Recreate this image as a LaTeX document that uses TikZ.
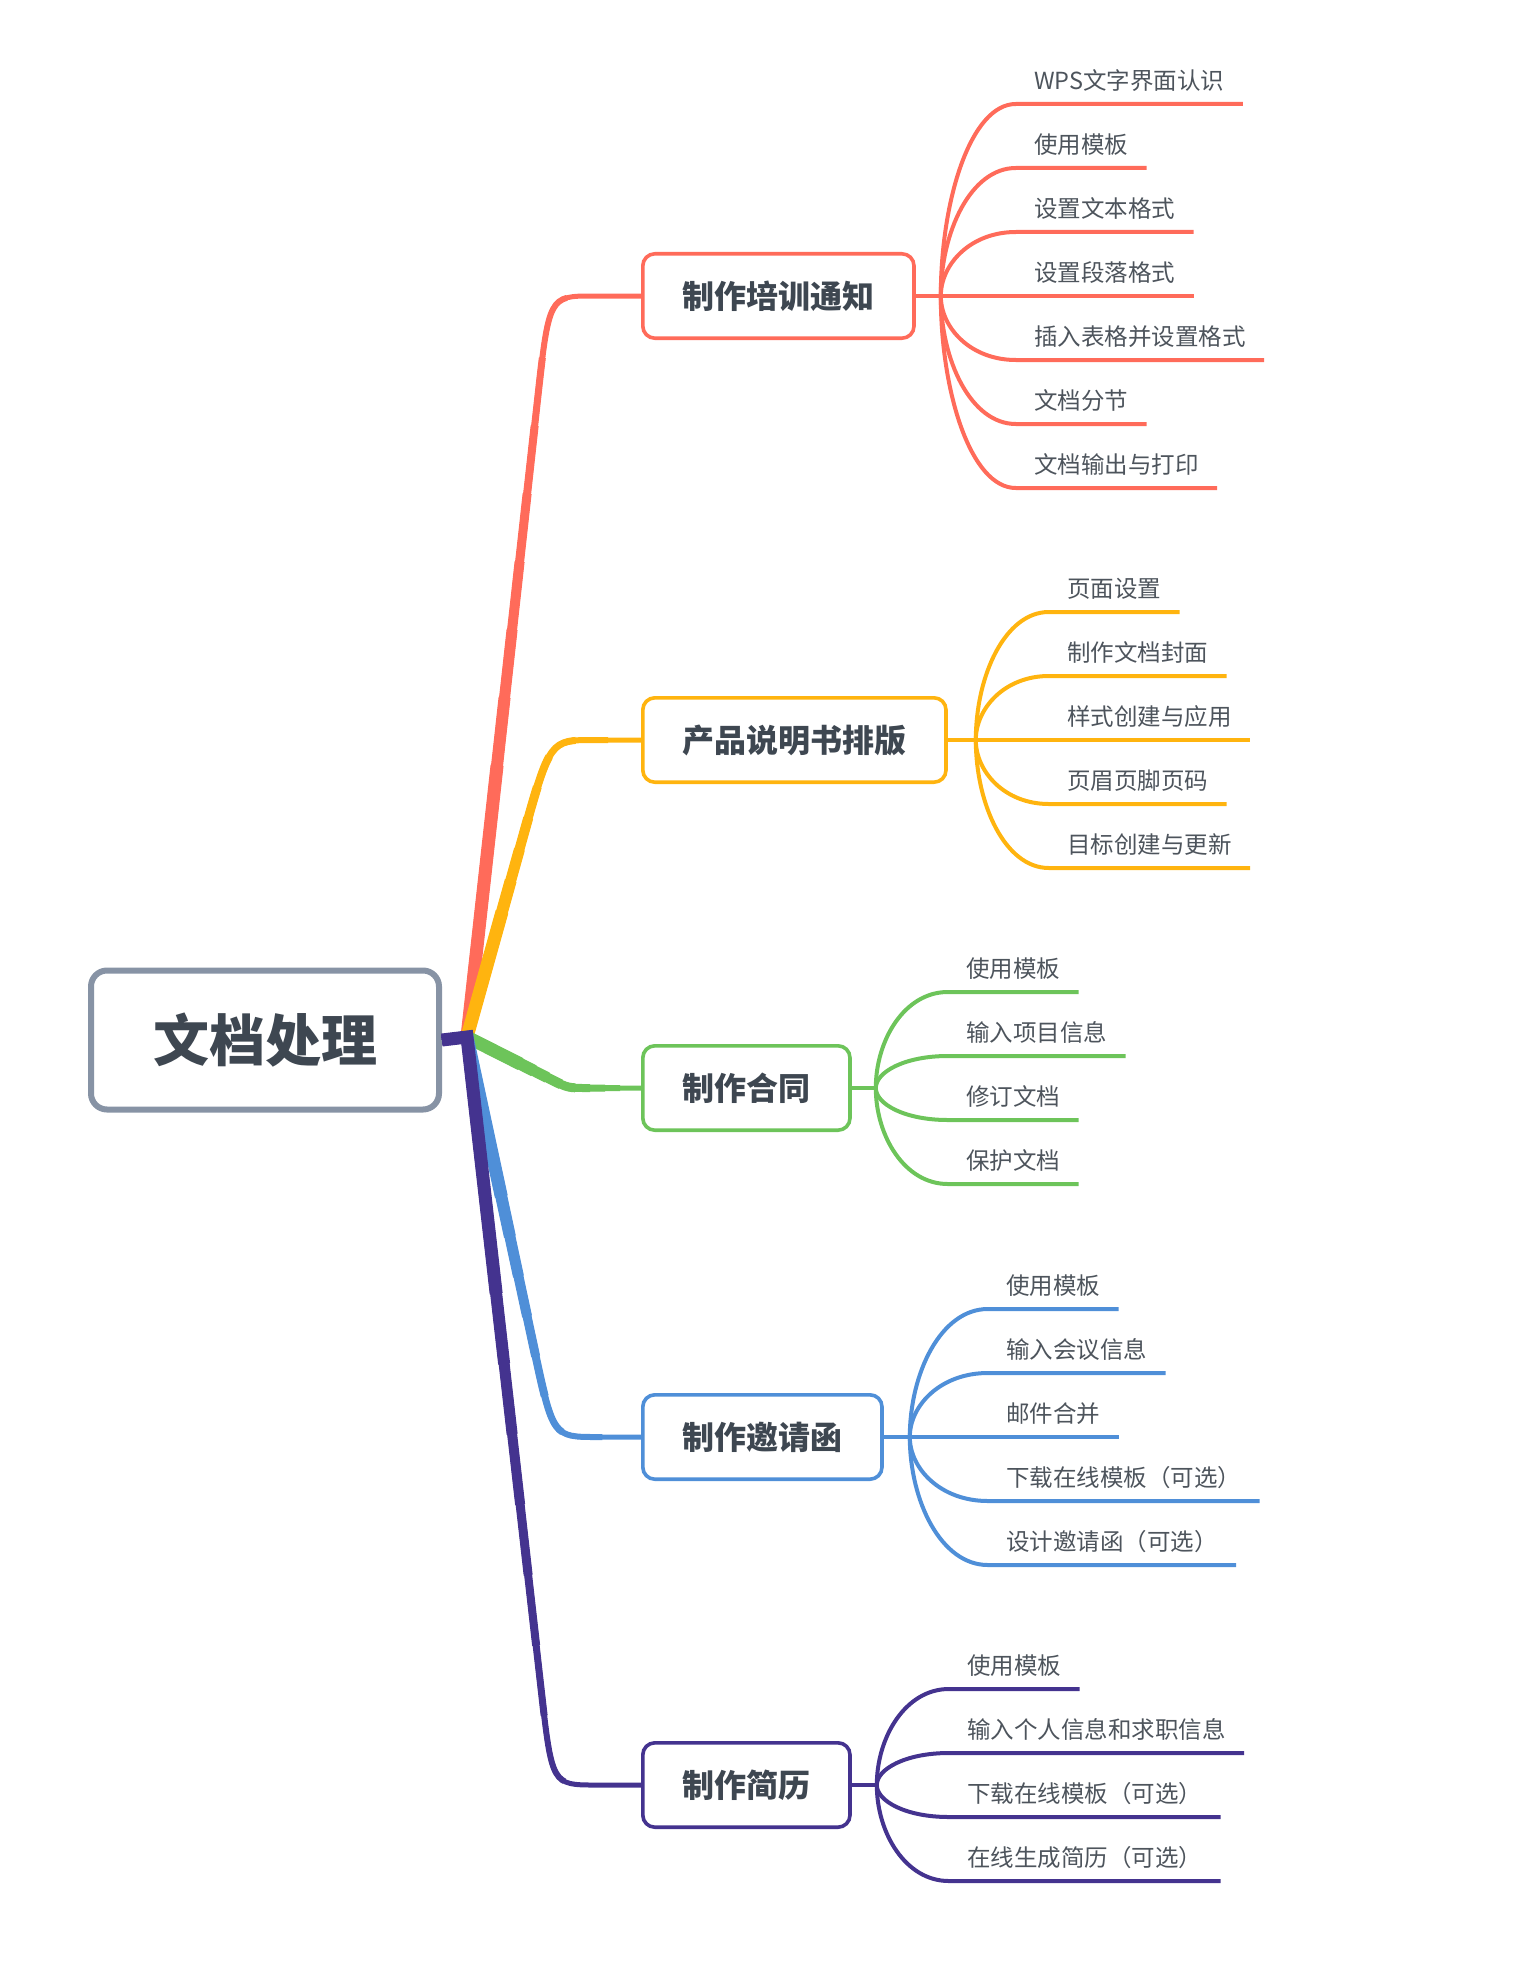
\documentclass[tikz,border=0pt]{standalone}
\usepackage{fontspec}
\setmainfont{Noto Sans CJK SC}
\usetikzlibrary{positioning, calc}

\definecolor{rootgray}{HTML}{8793A5}
\definecolor{textdark}{HTML}{3E4751}
\definecolor{textgray}{HTML}{4D545C}
\definecolor{cred}{HTML}{FF6B5A}
\definecolor{corange}{HTML}{FFB40F}
\definecolor{cgreen}{HTML}{6DC45A}
\definecolor{cblue}{HTML}{4F8FD8}
\definecolor{cpurple}{HTML}{44338F}

% tapered main branch: colour, length (pt), path
\newcommand{\trunk}[3]{%
  \foreach \k in {0,...,8}{%
    \pgfmathsetmacro{\dashlen}{\k==0 ? 5000 : #2*(1-\k/12)}%
    \pgfmathsetmacro{\wid}{2.5+0.5*\k}%
    \draw[#1, line width=\wid pt, dash pattern=on \dashlen pt off 5000pt] #3;
  }}

\begin{document}
\begin{tikzpicture}[x=0.5pt, y=-0.5pt,
    root/.style={draw=rootgray, line width=3pt, rounded corners=8pt, fill=white, text=textdark,
        font=\bfseries\fontsize{28}{34}\selectfont, minimum width=174pt, minimum height=69.5pt},
    topic/.style={draw=#1, line width=1.8pt, rounded corners=6pt, fill=white, text=textdark,
        font=\bfseries\fontsize{16}{20}\selectfont, minimum height=42.2pt, inner xsep=19.8pt, anchor=west},
    leaf/.style={font=\fontsize{11.75}{14}\selectfont, text=textgray, inner xsep=9pt, inner ysep=7pt,
        text depth=0pt, anchor=south west},
    sub/.style={draw=#1, line width=2pt}
]
\useasboundingbox (0,0) rectangle (1515,1969);

% Root and topics
\node[root] (root) at (265,1040) {文档处理};
\node[topic=cred] (train) at (641,296) {制作培训通知};
\node[topic=corange] (manual) at (641,740) {产品说明书排版};
\node[topic=cgreen] (contract) at (641,1088) {制作合同};
\node[topic=cblue] (invite) at (641,1437) {制作邀请函};
\node[topic=cpurple] (resume) at (641,1785) {制作简历};

\coordinate (hub) at (467,1037);

% Corners of the main branches
\coordinate (train-c) at ($(train.west)+(-92,0)$);
\coordinate (manual-c) at ($(manual.west)+(-91,0)$);
\coordinate (contract-c) at ($(contract.west)+(-73,0)$);
\coordinate (invite-c) at ($(invite.west)+(-88,0)$);
\coordinate (resume-c) at ($(resume.west)+(-89,0)$);

% Main branches
\trunk{cred}{410}{(hub) -- ($(train-c)!53pt!(hub)$) .. controls (train-c) .. ($(train-c)!22pt!(train.west)$) -- (train.west)}
\trunk{corange}{195}{(hub) -- ($(manual-c)!50pt!(hub)$) .. controls (manual-c) .. ($(manual-c)!22pt!(manual.west)$) -- (manual.west)}
\trunk{cgreen}{90}{(hub) -- ($(contract-c)!9pt!(hub)$) .. controls (contract-c) .. ($(contract-c)!10pt!(contract.west)$) -- (contract.west)}
\trunk{cblue}{245}{(hub) -- ($(invite-c)!45pt!(hub)$) .. controls (invite-c) .. ($(invite-c)!22pt!(invite.west)$) -- (invite.west)}
\trunk{cpurple}{425}{(root.east) -- (hub) -- ($(resume-c)!48pt!(hub)$) .. controls (resume-c) .. ($(resume-c)!22pt!(resume.west)$) -- (resume.west)}

% Junctions of the sub-branches
\coordinate (train-j) at ($(train.east)+(25,0)$);
\coordinate (manual-j) at ($(manual.east)+(28,0)$);
\coordinate (contract-j) at ($(contract.east)+(24,0)$);
\coordinate (invite-j) at ($(invite.east)+(26,0)$);
\coordinate (resume-j) at ($(resume.east)+(25,0)$);

% 制作培训通知
\draw[sub=cred] (train.east) -- (train-j);
\foreach \txt [count=\i] in {WPS文字界面认识, 使用模板, 设置文本格式, 设置段落格式, 插入表格并设置格式, 文档分节, 文档输出与打印} {
    \node[leaf] (train-\i) at ($(train-j)+(75,{(\i-4)*64})$) {\txt};
    \draw[sub=cred] (train-j) .. controls ($(train-j)!0.5!(train-j |- train-\i.south west)$)
        and ($(train-\i.south west)!0.6!(train-j |- train-\i.south west)$) .. (train-\i.south west) -- (train-\i.south east);
}

% 产品说明书排版
\draw[sub=corange] (manual.east) -- (manual-j);
\foreach \txt [count=\i] in {页面设置, 制作文档封面, 样式创建与应用, 页眉页脚页码, 目标创建与更新} {
    \node[leaf] (manual-\i) at ($(manual-j)+(73,{(\i-3)*64})$) {\txt};
    \draw[sub=corange] (manual-j) .. controls ($(manual-j)!0.5!(manual-j |- manual-\i.south west)$)
        and ($(manual-\i.south west)!0.6!(manual-j |- manual-\i.south west)$) .. (manual-\i.south west) -- (manual-\i.south east);
}

% 制作合同
\draw[sub=cgreen] (contract.east) -- (contract-j);
\foreach \txt [count=\i] in {使用模板, 输入项目信息, 修订文档, 保护文档} {
    \node[leaf] (contract-\i) at ($(contract-j)+(72,{(\i-2.5)*64})$) {\txt};
    \draw[sub=cgreen] (contract-j) .. controls ($(contract-j)!0.5!(contract-j |- contract-\i.south west)$)
        and ($(contract-\i.south west)!0.6!(contract-j |- contract-\i.south west)$) .. (contract-\i.south west) -- (contract-\i.south east);
}

% 制作邀请函
\draw[sub=cblue] (invite.east) -- (invite-j);
\foreach \txt [count=\i] in {使用模板, 输入会议信息, 邮件合并, 下载在线模板（可选）, 设计邀请函（可选）} {
    \node[leaf] (invite-\i) at ($(invite-j)+(78,{(\i-3)*64})$) {\txt};
    \draw[sub=cblue] (invite-j) .. controls ($(invite-j)!0.5!(invite-j |- invite-\i.south west)$)
        and ($(invite-\i.south west)!0.6!(invite-j |- invite-\i.south west)$) .. (invite-\i.south west) -- (invite-\i.south east);
}

% 制作简历
\draw[sub=cpurple] (resume.east) -- (resume-j);
\foreach \txt [count=\i] in {使用模板, 输入个人信息和求职信息, 下载在线模板（可选）, 在线生成简历（可选）} {
    \node[leaf] (resume-\i) at ($(resume-j)+(72,{(\i-2.5)*64})$) {\txt};
    \draw[sub=cpurple] (resume-j) .. controls ($(resume-j)!0.5!(resume-j |- resume-\i.south west)$)
        and ($(resume-\i.south west)!0.6!(resume-j |- resume-\i.south west)$) .. (resume-\i.south west) -- (resume-\i.south east);
}

\end{tikzpicture}
\end{document}
